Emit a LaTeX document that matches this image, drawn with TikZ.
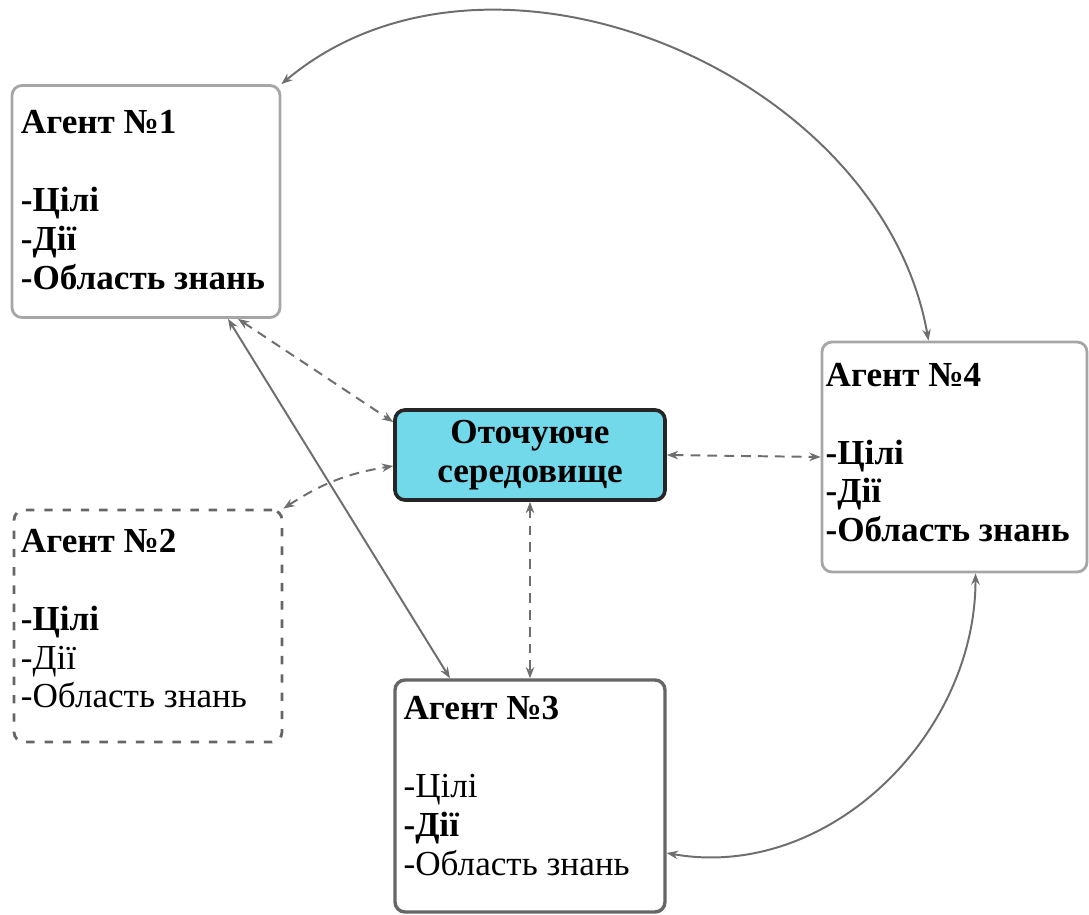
\documentclass[tikz,border=0pt]{standalone}
\usepackage{fontspec}
\setmainfont{Liberation Serif}
\usetikzlibrary{arrows.meta}

\definecolor{envfill}{HTML}{72D9EA}
\definecolor{lightedge}{HTML}{A6A6A6}
\definecolor{darkedge}{HTML}{666666}
\definecolor{linkgray}{HTML}{6E6E6E}

\begin{document}
\begin{tikzpicture}[
    every node/.style={font=\fontsize{25pt}{27.7pt}\selectfont},
    agentbox/.style={rounded corners=0.25cm, minimum width=6.7cm,
        minimum height=5.8cm, line width=2pt, inner sep=0pt},
    agenttext/.style={anchor=north west, align=left, inner sep=0pt},
    link/.style={draw=linkgray, line width=1.4pt,
        {Stealth[length=8pt,width=6pt]}-{Stealth[length=8pt,width=6pt]}},
    dashlink/.style={link, dash pattern=on 7pt off 5pt}
]
    \useasboundingbox (0,0) rectangle (27.225,22.85);

    %agent 1
    \node[agentbox, draw=lightedge] (a1) at (3.65, 17.8125) {};
    \node[agenttext] (a1txt) at ([shift={(0.25,-0.65)}]a1.north west)
        {\textbf{Агент №1}\\[0.975cm]
         \textbf{-Цілі}\\
         \textbf{-Дії}\\
         \textbf{-Область знань}};
    %agent 2
    \node[agentbox, draw=darkedge, dash pattern=on 6pt off 7pt] (a2)
        at (3.7, 7.2) {};
    \node[agenttext] (a2txt) at ([shift={(0.2,-0.5)}]a2.north west)
        {\textbf{Агент №2}\\[0.975cm]
         \textbf{-Цілі}\\
         -Дії\\
         -Область знань};
    %environment
    \node[rounded corners=0.25cm, draw=black!85, line width=2.6pt,
        fill=envfill, minimum width=6.75cm, minimum height=2.25cm,
        align=center] (env) at (13.25, 11.475)
        {\textbf{Оточуюче}\\ \textbf{середовище}};
    %agent 3
    \node[agentbox, draw=darkedge, line width=2.4pt, minimum width=6.75cm]
        (a3) at (13.25, 2.95) {};
    \node[agenttext] (a3txt) at ([shift={(0.25,-0.45)}]a3.north west)
        {\textbf{Агент №3}\\[0.975cm]
         -Цілі\\
         \textbf{-Дії}\\
         -Область знань};
    %agent 4
    \node[agentbox, draw=lightedge, minimum width=6.625cm,
        minimum height=5.75cm] (a4) at (23.8625, 11.425) {};
    \node[agenttext] (a4txt) at ([shift={(0.12,-0.55)}]a4.north west)
        {\textbf{Агент №4}\\[0.975cm]
         \textbf{-Цілі}\\
         \textbf{-Дії}\\
         \textbf{-Область знань}};

    %links
    \draw[link] (a1.north east) to[out=40, in=100, looseness=1]
        ([xshift=-0.65cm]a4.north);
    \draw[link] ([xshift=0.525cm]a4.south) to[out=-90, in=-10]
        ([yshift=-1.425cm]a3.east);
    \draw[link] ([xshift=2.05cm]a1.south) -- ([xshift=-2cm]a3.north);
    \draw[dashlink] ([xshift=2.3cm]a1.south) -- ([yshift=0.825cm]env.west);
    \draw[dashlink] (a2.north east) to[bend left=12]
        ([yshift=-0.275cm]env.west);
    \draw[dashlink] (env.south) -- (a3.north);
    \draw[dashlink] (env.east) -- (a4.west);
\end{tikzpicture}
\end{document}
